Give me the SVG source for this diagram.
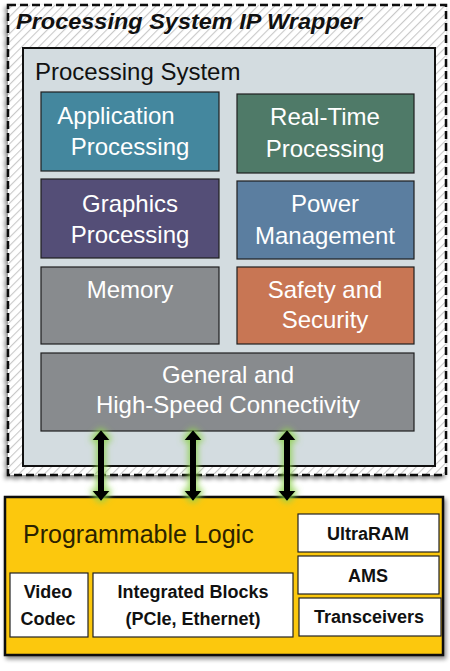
<svg xmlns="http://www.w3.org/2000/svg" width="450" height="671" viewBox="0 0 450 671">
<defs>
<pattern id="hatch" width="6" height="6" patternUnits="userSpaceOnUse" patternTransform="rotate(45)">
<rect width="6" height="6" fill="#ffffff"/>
<line x1="0" y1="0" x2="0" y2="6" stroke="#c9c9c9" stroke-width="2.2"/>
</pattern>
<filter id="shadow" x="-5%" y="-5%" width="112%" height="112%">
<feGaussianBlur in="SourceAlpha" stdDeviation="2"/>
<feOffset dx="-2" dy="3" result="b"/>
<feComponentTransfer><feFuncA type="linear" slope="0.45"/></feComponentTransfer>
<feMerge><feMergeNode/><feMergeNode in="SourceGraphic"/></feMerge>
</filter>
<filter id="shadow2" x="-5%" y="-5%" width="112%" height="115%">
<feGaussianBlur in="SourceAlpha" stdDeviation="2"/>
<feOffset dx="2" dy="3" result="b"/>
<feComponentTransfer><feFuncA type="linear" slope="0.45"/></feComponentTransfer>
<feMerge><feMergeNode/><feMergeNode in="SourceGraphic"/></feMerge>
</filter>
<filter id="glow" x="-100%" y="-20%" width="300%" height="140%">
<feMorphology in="SourceAlpha" operator="dilate" radius="2" result="d"/>
<feGaussianBlur in="d" stdDeviation="3" result="g"/>
<feFlood flood-color="#8fd14f" flood-opacity="0.85"/>
<feComposite in2="g" operator="in"/>
<feMerge><feMergeNode/><feMergeNode in="SourceGraphic"/></feMerge>
</filter>
</defs>
<style>
.wt{font-family:"Liberation Sans",Arial,sans-serif;font-size:24px;fill:#ffffff;text-anchor:middle}
.bt{font-family:"Liberation Sans",Arial,sans-serif;font-size:18px;font-weight:bold;fill:#111111;text-anchor:middle}
.node{stroke:#1e1e1e;stroke-width:1.2}
.wbox{fill:#ffffff;stroke:#222222;stroke-width:1.2}
</style>
<rect width="450" height="671" fill="#ffffff"/>

<g id="wrapper">
<rect x="8" y="5" width="438" height="470" fill="url(#hatch)" stroke="#111111" stroke-width="2.5" stroke-dasharray="8,4" filter="url(#shadow)"/>
<text x="16" y="29" font-family="Liberation Sans,Arial,sans-serif" font-size="22" font-weight="bold" font-style="italic" fill="#111111" textLength="346" lengthAdjust="spacingAndGlyphs">Processing System IP Wrapper</text>
</g>

<g id="processing-system">
<rect x="23" y="48" width="412" height="418" fill="#d3dce0" stroke="#111111" stroke-width="2"/>
<text x="35" y="80" font-family="Liberation Sans,Arial,sans-serif" font-size="24" fill="#111111">Processing System</text>
</g>

<g id="application-processing">
<rect class="node" x="41" y="92" width="178" height="79" fill="#44879e"/>
<text class="wt" x="116" y="124">Application</text>
<text class="wt" x="130" y="155">Processing</text>
</g>

<g id="real-time-processing">
<rect class="node" x="237" y="94" width="177" height="79" fill="#4f7a68"/>
<text class="wt" x="325" y="125">Real-Time</text>
<text class="wt" x="325" y="157">Processing</text>
</g>

<g id="graphics-processing">
<rect class="node" x="41" y="179" width="178" height="79" fill="#544e77"/>
<text class="wt" x="130" y="212">Graphics</text>
<text class="wt" x="130" y="243">Processing</text>
</g>

<g id="power-management">
<rect class="node" x="237" y="181" width="177" height="78" fill="#5b7ea0"/>
<text class="wt" x="325" y="212">Power</text>
<text class="wt" x="325" y="244">Management</text>
</g>

<g id="memory">
<rect class="node" x="41" y="267" width="178" height="77" fill="#888b8e"/>
<text class="wt" x="130" y="298">Memory</text>
</g>

<g id="safety-security">
<rect class="node" x="237" y="267" width="177" height="77" fill="#c87654"/>
<text class="wt" x="325" y="298">Safety and</text>
<text class="wt" x="325" y="328">Security</text>
</g>

<g id="connectivity">
<rect class="node" x="41" y="353" width="373" height="78" fill="#888b8e"/>
<text class="wt" x="228" y="383">General and</text>
<text class="wt" x="228" y="413">High-Speed Connectivity</text>
</g>

<g id="programmable-logic">
<rect x="5" y="497" width="438" height="158" fill="#fcc80b" stroke="#111111" stroke-width="2.5" filter="url(#shadow2)"/>
<text x="23" y="543" font-family="Liberation Sans,Arial,sans-serif" font-size="25" fill="#2b2200">Programmable Logic</text>
</g>

<g id="ultraram">
<rect class="wbox" x="298" y="514" width="141" height="38"/>
<text class="bt" x="368" y="540">UltraRAM</text>
</g>

<g id="ams">
<rect class="wbox" x="298" y="556" width="141" height="38"/>
<text class="bt" x="368" y="582">AMS</text>
</g>

<g id="transceivers">
<rect class="wbox" x="299" y="598" width="142" height="38"/>
<text class="bt" x="369" y="623">Transceivers</text>
</g>

<g id="video-codec">
<rect class="wbox" x="10" y="573" width="78" height="64"/>
<text class="bt" x="48" y="598">Video</text>
<text class="bt" x="48" y="625">Codec</text>
</g>

<g id="integrated-blocks">
<rect class="wbox" x="93" y="573" width="200" height="64"/>
<text class="bt" x="193" y="598">Integrated Blocks</text>
<text class="bt" x="193" y="625">(PCIe, Ethernet)</text>
</g>

<g id="connectors" fill="#000000" filter="url(#glow)">
<path d="M101,430 L109.5,440 L104,440 L104,491 L109.5,491 L101,501 L92.5,491 L98,491 L98,440 L92.5,440 Z"/>
<path d="M193,430 L201.5,440 L196,440 L196,491 L201.5,491 L193,501 L184.5,491 L190,491 L190,440 L184.5,440 Z"/>
<path d="M287,430 L295.5,440 L290,440 L290,491 L295.5,491 L287,501 L278.5,491 L284,491 L284,440 L278.5,440 Z"/>
</g>
</svg>
